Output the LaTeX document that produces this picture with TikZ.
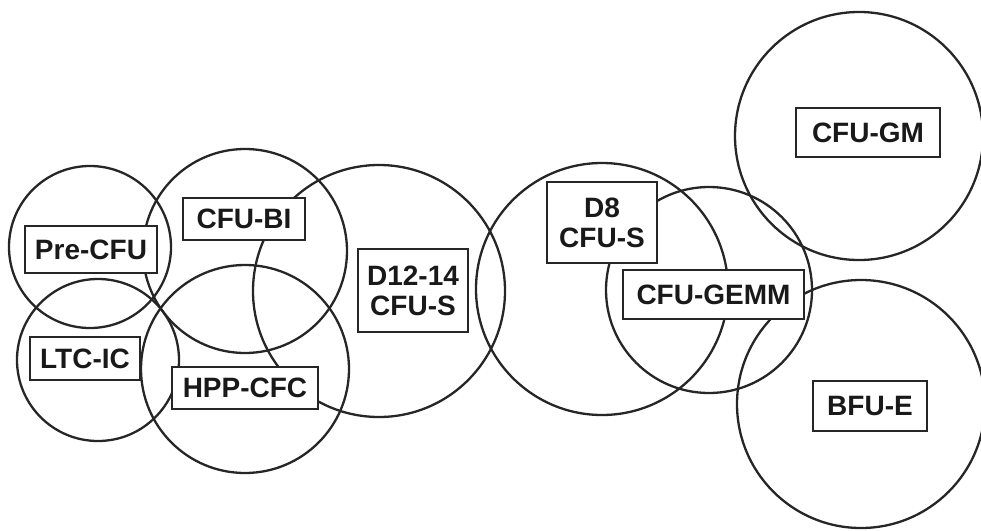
\documentclass[tikz,border=0pt]{standalone}
\usepackage{fontspec}
\setmainfont{Liberation Sans}
\begin{document}
\begin{tikzpicture}[x=1pt,y=-1pt,
  ring/.style={draw=black!85, line width=2.3pt},
  label/.style={draw=black!85, fill=white, line width=2.5pt, inner sep=0pt,
    font=\fontsize{28}{30}\selectfont\bfseries, text=black!90, align=center}]
\useasboundingbox (0,0) rectangle (981,530);
% circles
\draw[ring] (90,247) circle (81);
\draw[ring] (98,360) circle (81);
\draw[ring] (245,251) circle (102);
\draw[ring] (245,369) circle (104);
\draw[ring] (379,291) circle (126);
\draw[ring] (602,289) circle (126);
\draw[ring] (709,290) circle (103);
\draw[ring] (859,136) circle (124);
\draw[ring] (861,404) circle (124);
% labels
\node[label, minimum width=132pt, minimum height=47pt] (precfu) at (91,249.5) {Pre-CFU};
\node[label, minimum width=122pt, minimum height=42pt] (cfubi) at (244,219) {CFU-BI};
\node[label, minimum width=110pt, minimum height=43pt] (ltcic) at (85,358.5) {LTC-IC};
\node[label, minimum width=146pt, minimum height=42pt] (hppcfc) at (245,388) {HPP-CFC};
\node[label, minimum width=110pt, minimum height=83pt] (d12) at (413,290.5) {D12-14\\CFU-S};
\node[label, minimum width=110pt, minimum height=81pt] (d8) at (602,222.5) {D8\\CFU-S};
\node[label, minimum width=181pt, minimum height=49pt] (gemm) at (713.5,294.5) {CFU-GEMM};
\node[label, minimum width=144pt, minimum height=49pt] (gm) at (868,132.5) {CFU-GM};
\node[label, minimum width=114pt, minimum height=50pt] (bfue) at (870,406) {BFU-E};
\end{tikzpicture}
\end{document}
